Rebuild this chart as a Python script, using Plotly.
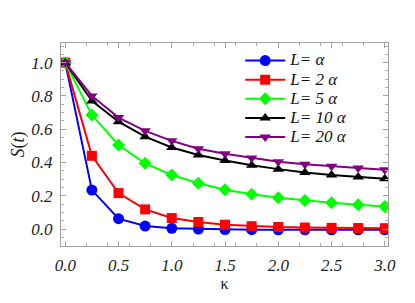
import plotly.graph_objects as go

kappa = [0.0, 0.25, 0.5, 0.75, 1.0, 1.25, 1.5, 1.75, 2.0, 2.25, 2.5, 2.75, 3.0]
s_L1 = [1.0, 0.234, 0.062, 0.018, 0.004, 0.0, -0.003, -0.004, -0.005, -0.005, -0.005, -0.005, -0.005]
s_L2 = [1.0, 0.44, 0.216, 0.118, 0.066, 0.042, 0.026, 0.017, 0.012, 0.009, 0.007, 0.006, 0.005]
s_L5 = [1.0, 0.685, 0.505, 0.395, 0.325, 0.275, 0.236, 0.209, 0.188, 0.172, 0.158, 0.146, 0.136]
s_L10 = [1.0, 0.77, 0.645, 0.555, 0.49, 0.445, 0.412, 0.383, 0.36, 0.34, 0.325, 0.313, 0.302]
s_L20 = [1.0, 0.80, 0.67, 0.59, 0.53, 0.483, 0.452, 0.427, 0.405, 0.39, 0.377, 0.367, 0.357]
x_ticks = [0, 0.5, 1, 1.5, 2, 2.5, 3]
x_tick_labels = ["0.0", "0.5", "1.0", "1.5", "2.0", "2.5", "3.0"]
y_ticks = [0, 0.2, 0.4, 0.6, 0.8, 1.0]
y_tick_labels = ["0.0", "0.2", "0.4", "0.6", "0.8", "1.0"]

labels = ["<i>L</i>= <i>α</i>", "<i>L</i>= <i>2 α</i>", "<i>L</i>= <i>5 α</i>",
          "<i>L</i>= <i>10 α</i>", "<i>L</i>= <i>20 α</i>"]
names = [f'<span style="font-size:17px">{t}</span>' for t in labels]
series = [s_L1, s_L2, s_L5, s_L10, s_L20]
colors = ["#0000FF", "#FF0000", "#00FF00", "#000000", "#800080"]
symbols = ["circle", "square", "diamond", "triangle-up", "triangle-down"]
sizes = [11, 10, 10, 10, 10]

fig = go.Figure()
for n, s, c, sym, sz in zip(names, series, colors, symbols, sizes):
    fig.add_trace(go.Scatter(x=kappa, y=s, name=n, mode="lines+markers",
                             line=dict(color=c, width=2),
                             marker=dict(symbol=sym, size=sz, color=c)))

serif = "Liberation Serif"
axis_common = dict(showline=True, linecolor="#a0a0a0", linewidth=1, mirror="allticks",
                   ticks="inside", ticklen=5, tickcolor="#a0a0a0", showgrid=False,
                   zeroline=False, automargin=False, ticklabelstandoff=4,
                   minor=dict(ticks="inside", ticklen=3, tickcolor="#b0b0b0", nticks=5),
                   tickfont=dict(family=serif, size=17, color="#222", style="italic"))

fig.update_xaxes(range=[-0.04, 3.03], tickvals=x_ticks,
                 ticktext=[f"<i>{t}</i>" for t in x_tick_labels],
                 title=dict(text="κ", font=dict(family=serif, size=16, color="#222"), standoff=3),
                 **axis_common)
fig.update_yaxes(range=[-0.102, 1.118], tickvals=y_ticks,
                 ticktext=[f"<i>{t}</i>" for t in y_tick_labels],
                 title=dict(text="<i>S</i>(<i>t</i>)", font=dict(family=serif, size=18, color="#222"), standoff=5),
                 **axis_common)

fig.update_layout(width=407, height=295, margin=dict(l=53, r=27, t=35, b=57),
                  plot_bgcolor="white", paper_bgcolor="white",
                  legend=dict(x=0.548, y=0.985, xanchor="left", yanchor="top",
                              bgcolor="rgba(255,255,255,0)",
                              font=dict(family=serif, size=12.4, color="#111", style="italic"),
                              tracegroupgap=0, itemwidth=40))

fig.write_html("out.html")
